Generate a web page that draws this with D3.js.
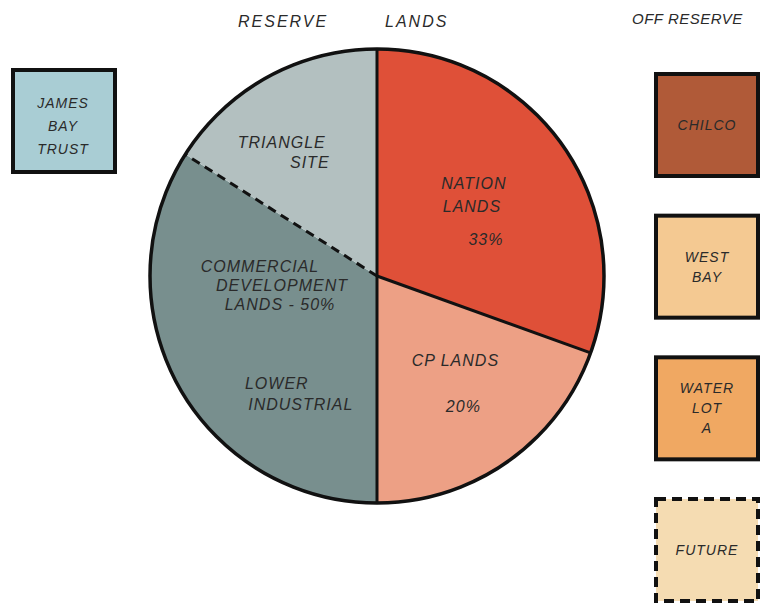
<!DOCTYPE html>
<html>
<head>
<meta charset="utf-8">
<script src="https://cdn.jsdelivr.net/npm/d3@7"></script>
<style>
  body { margin: 0; background: #fff; }
  text { font-family: "Liberation Sans", sans-serif; font-style: italic; fill: #2a2a2a; letter-spacing: 1px; }
</style>
</head>
<body>
<div id="chart"></div>
<script>
// reserve lands slices, clockwise from the top
var sliceNames = ["NATION LANDS", "CP LANDS", "LOWER INDUSTRIAL", "TRIANGLE SITE"]
var sliceValues = [30.5, 19.5, 34, 16]
var sliceColors = ["#df5038", "#eda085", "#788f8e", "#b3c0c0"]
// lines of text written in each slice
var sliceLabels = [
  ["NATION", "LANDS", "33%"],
  ["CP LANDS", "20%"],
  ["LOWER", "INDUSTRIAL"],
  ["TRIANGLE", "SITE"]
]
var commercialLabel = ["COMMERCIAL", "DEVELOPMENT", "LANDS - 50%"]

// off reserve parcels
var offNames = ["CHILCO", "WEST BAY", "WATER LOT A", "FUTURE"]
var offLines = [["CHILCO"], ["WEST", "BAY"], ["WATER", "LOT", "A"], ["FUTURE"]]
var offColors = ["#b05a38", "#f4c992", "#f0a862", "#f5dcb2"]
var offDashed = [false, false, false, true]

var trustLines = ["JAMES", "BAY", "TRUST"]
var trustColor = "#a9cdd4"

var width = 761, height = 603
var cx = 377, cy = 276, r = 227

var svg = d3.select("#chart").append("svg")
    .attr("width", width)
    .attr("height", height)

// titles
svg.append("text").attr("x", 238).attr("y", 27).style("font-size", "16px").style("letter-spacing", "2px").text("RESERVE")
svg.append("text").attr("x", 385).attr("y", 27).style("font-size", "16px").style("letter-spacing", "2px").text("LANDS")
svg.append("text").attr("x", 632).attr("y", 24).style("font-size", "15px").style("letter-spacing", "0.5px").text("OFF RESERVE")

var pie = d3.pie().sort(null).value(d => d)
var arcs = pie(sliceValues)
var arc = d3.arc().innerRadius(0).outerRadius(r)

var g = svg.append("g").attr("transform", "translate(" + cx + "," + cy + ")")

g.selectAll("path.slice")
    .data(arcs)
    .enter()
    .append("path")
    .attr("class", "slice")
    .attr("d", arc)
    .style("fill", (d, i) => sliceColors[i])
    .style("stroke", "none")

// radial boundaries, the one between the two commercial parts is dashed
g.selectAll("line.edge")
    .data(arcs)
    .enter()
    .append("line")
    .attr("class", "edge")
    .attr("x1", 0).attr("y1", 0)
    .attr("x2", d => r * Math.sin(d.startAngle))
    .attr("y2", d => -r * Math.cos(d.startAngle))
    .style("stroke", "#111")
    .style("stroke-width", 3)
    .style("stroke-dasharray", (d, i) => i == 3 ? "9,6" : null)

g.append("circle")
    .attr("r", r)
    .style("fill", "none")
    .style("stroke", "#111")
    .style("stroke-width", 3.5)

// slice labels: [fraction of slice angle, distance / radius, line step, x shift per line]
var labelSpots = [[0.52, 0.54, 27, 6], [0.47, 0.60, 46, 8], [0.30, 0.65, 21, 24], [0.42, 0.65, 20, 28]]
// extra nudges per line (x, y)
var labelNudges = [
  [[0, 2], [-8, -2], [0, 4]],
  [[0, 0], [0, 0]],
  [[0, 0], [0, 0]],
  [[0, 0], [0, 0]]
]
arcs.forEach(function(d, i) {
  var mid = d.startAngle + (d.endAngle - d.startAngle) * labelSpots[i][0]
  var dist = r * labelSpots[i][1]
  var lx = dist * Math.sin(mid), ly = -dist * Math.cos(mid)
  var lines = sliceLabels[i]
  var step = labelSpots[i][2], shift = labelSpots[i][3]
  var t = g.append("text")
      .attr("text-anchor", "middle")
      .style("font-size", "16px")
  lines.forEach(function(s, j) {
    var k = j - (lines.length - 1) / 2
    t.append("tspan")
      .attr("x", lx + k * shift + labelNudges[i][j][0])
      .attr("y", ly + k * step + 5 + labelNudges[i][j][1])
      .text(s)
  })
})

var commercialShift = [0, 22, 20]
var ct = g.append("text").attr("text-anchor", "middle").style("font-size", "16px")
commercialLabel.forEach(function(s, j) {
  ct.append("tspan").attr("x", -117 + commercialShift[j]).attr("y", -4 + j * 19).text(s)
})

// off reserve boxes
var y = d3.scaleBand()
    .domain(offNames)
    .range([74, 601])
    .paddingInner(0.28)
    .paddingOuter(0)

var boxX = 656, boxW = y.bandwidth()

var boxes = svg.selectAll("g.box")
    .data(offNames)
    .enter()
    .append("g")
    .attr("class", "box")

boxes.append("rect")
    .attr("x", boxX)
    .attr("y", d => y(d))
    .attr("width", boxW)
    .attr("height", y.bandwidth())
    .style("fill", (d, i) => offColors[i])
    .style("stroke", "#111")
    .style("stroke-width", 4)
    .style("stroke-dasharray", (d, i) => offDashed[i] ? "10,6" : null)

boxes.each(function(d, i) {
  var lines = offLines[i]
  var t = d3.select(this).append("text")
      .attr("text-anchor", "middle")
      .style("font-size", "14px")
  lines.forEach(function(s, j) {
    t.append("tspan")
      .attr("x", boxX + boxW / 2)
      .attr("y", y(d) + y.bandwidth() / 2 + (j - (lines.length - 1) / 2) * 20 + 5)
      .text(s)
  })
})

// James Bay Trust box
svg.append("rect")
    .attr("x", 13).attr("y", 70)
    .attr("width", 102).attr("height", 102)
    .style("fill", trustColor)
    .style("stroke", "#111")
    .style("stroke-width", 4)

var jt = svg.append("text").attr("text-anchor", "middle").style("font-size", "14px")
trustLines.forEach(function(s, j) {
  jt.append("tspan").attr("x", 63).attr("y", 108 + j * 23).text(s)
})
</script>
</body>
</html>
